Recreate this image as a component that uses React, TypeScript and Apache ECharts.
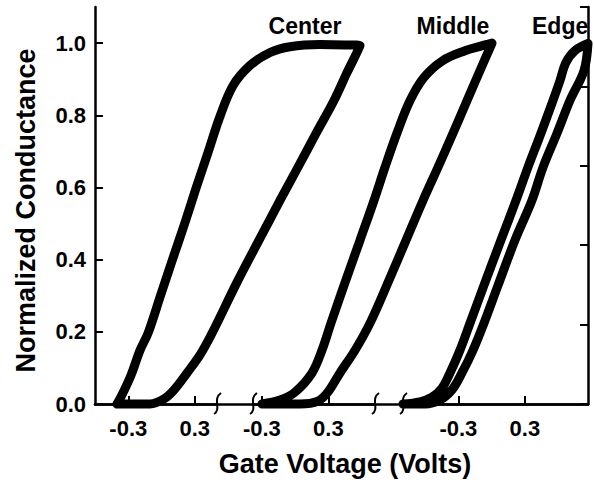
import React, { useEffect, useRef } from "react";
import * as echarts from "echarts";

// ---- data ----
const yTickValues = [0, 0.2, 0.4, 0.6, 0.8, 1.0];
const panelTicks = [-0.3, 0.3];
const panelMin = [-0.6, -0.38, -0.8];
const panelMax = [0.5, 0.72, 0.87];
const curveNames = ["Center", "Middle", "Edge"];

// Center loop (panel 1 voltage axis)
const centerV = [
  -0.402, -0.357, -0.275, -0.194, -0.122, -0.014, 0.094, 0.203, 0.311, 0.419, 0.527, 0.644, 0.798, 0.978, 1.158,
  1.429, 1.654, 1.79, 1.672, 1.555, 1.393, 1.23, 1.068, 0.879, 0.68, 0.455, 0.347, 0.23, 0.112, 0.022, -0.104,
  -0.402,
];
const centerG = [
  0, 0.025, 0.08, 0.149, 0.196, 0.296, 0.396, 0.495, 0.598, 0.697, 0.797, 0.882, 0.938, 0.974, 0.99, 0.996, 0.995,
  0.993, 0.918, 0.841, 0.75, 0.656, 0.564, 0.454, 0.337, 0.196, 0.136, 0.086, 0.039, 0.014, 0, 0,
];

// Middle loop (panel 2 voltage axis)
const middleV = [
  -0.299, -0.137, -0.001, 0.152, 0.242, 0.323, 0.441, 0.585, 0.711, 0.81, 0.927, 1.036, 1.162, 1.333, 1.532, 1.667,
  1.775, 1.667, 1.55, 1.423, 1.288, 1.153, 1.0, 0.846, 0.675, 0.54, 0.404, 0.296, 0.206, 0.044, -0.299,
];
const middleG = [
  0, 0.011, 0.033, 0.086, 0.149, 0.224, 0.329, 0.454, 0.564, 0.656, 0.758, 0.841, 0.905, 0.952, 0.979, 0.991, 1.0,
  0.924, 0.841, 0.75, 0.656, 0.564, 0.454, 0.343, 0.224, 0.149, 0.086, 0.033, 0.008, 0, 0,
];

// Edge loop (panel 3 voltage axis)
const edgeV = [
  -0.8, -0.647, -0.538, -0.448, -0.376, -0.286, -0.195, -0.069, 0.084, 0.22, 0.328, 0.445, 0.554, 0.617, 0.671,
  0.752, 0.87, 0.834, 0.707, 0.59, 0.464, 0.364, 0.211, 0.058, -0.069, -0.168, -0.268, -0.358, -0.466, -0.601, -0.8,
];
const edgeG = [
  0, 0.006, 0.019, 0.044, 0.086, 0.149, 0.224, 0.329, 0.454, 0.564, 0.656, 0.75, 0.841, 0.896, 0.946, 0.979, 0.999,
  0.924, 0.841, 0.75, 0.656, 0.564, 0.454, 0.329, 0.224, 0.149, 0.086, 0.039, 0.011, 0, 0,
];

const FONT = '"Liberation Sans", Arial, Helvetica, sans-serif';

export default function App() {
  const ref = useRef<HTMLDivElement>(null);

  useEffect(() => {
    if (!ref.current) return;
    const chart = echarts.init(ref.current, null, { renderer: "svg" });

    const TOP = 7;
    const HEIGHT = 397;
    const BOTTOM = TOP + HEIGHT;
    const PLOT_LEFT = 95;
    const PLOT_RIGHT = 588;
    const panelLeft = [95, 253, 403];
    const panelWidth = [122, 122, 185];

    const lineStyleAxis = { color: "#000", width: 2.5 };
    const labelStyle = { color: "#000", fontWeight: "bold" as const, fontFamily: FONT };

    // grid 0: frame; grids 1-3: short broken x axes; grids 4-6: curve areas reaching the right edge
    const grids: any[] = [{ left: PLOT_LEFT, top: TOP, width: PLOT_RIGHT - PLOT_LEFT, height: HEIGHT }];
    panelLeft.forEach((l, i) => grids.push({ left: l, top: TOP, width: panelWidth[i], height: HEIGHT }));
    panelLeft.forEach((l) => grids.push({ left: l, top: TOP, width: PLOT_RIGHT - l, height: HEIGHT }));

    const xAxes: any[] = [
      {
        type: "value",
        gridIndex: 0,
        position: "top",
        min: 0,
        max: 1,
        axisLine: { show: true, lineStyle: lineStyleAxis },
        axisTick: { show: false },
        axisLabel: { show: false },
        splitLine: { show: false },
      },
    ];
    panelMin.forEach((mn, i) => {
      xAxes.push({
        type: "value",
        gridIndex: i + 1,
        position: "bottom",
        min: mn,
        max: panelMax[i],
        axisLine: { show: true, onZero: false, lineStyle: lineStyleAxis },
        axisTick: {
          show: true,
          inside: true,
          length: 8,
          customValues: panelTicks,
          lineStyle: { color: "#000", width: 2 },
        },
        axisLabel: {
          ...labelStyle,
          fontSize: 22,
          margin: 13,
          customValues: panelTicks,
          formatter: (v: number) => v.toFixed(1),
        },
        splitLine: { show: false },
      });
    });
    panelMin.forEach((mn, i) => {
      const pxPerV = panelWidth[i] / (panelMax[i] - mn);
      xAxes.push({
        type: "value",
        gridIndex: i + 4,
        min: mn,
        max: mn + (PLOT_RIGHT - panelLeft[i]) / pxPerV,
        show: false,
        splitLine: { show: false },
      });
    });

    const yAxes: any[] = [
      {
        type: "value",
        gridIndex: 0,
        position: "left",
        min: 0,
        max: 1.1,
        interval: 0.2,
        name: "Normalized Conductance",
        nameLocation: "middle",
        nameGap: 56,
        nameTextStyle: { ...labelStyle, fontSize: 27, padding: [0, 10, 0, 0] },
        axisLine: { show: true, lineStyle: lineStyleAxis },
        axisTick: { show: true, inside: true, length: 8, lineStyle: { color: "#000", width: 2 } },
        axisLabel: {
          ...labelStyle,
          fontSize: 22,
          margin: 9,
          showMaxLabel: false,
          formatter: (v: number) => (yTickValues.some((t) => Math.abs(t - v) < 1e-6) ? v.toFixed(1) : ""),
        },
        splitLine: { show: false },
      },
      {
        type: "value",
        gridIndex: 0,
        position: "right",
        min: 0,
        max: 1,
        interval: 0.2,
        axisLine: { show: true, lineStyle: lineStyleAxis },
        axisTick: { show: true, inside: true, length: 8, lineStyle: { color: "#000", width: 2 } },
        axisLabel: { show: false },
        splitLine: { show: false },
      },
    ];
    for (let g = 1; g <= 6; g++) {
      yAxes.push({ type: "value", gridIndex: g, min: 0, max: 1.1, show: false, splitLine: { show: false } });
    }

    const curves = [
      [centerV, centerG],
      [middleV, middleG],
      [edgeV, edgeG],
    ];
    const series = curves.map(([vs, gs], i) => ({
      name: curveNames[i],
      type: "line",
      xAxisIndex: i + 4,
      yAxisIndex: i + 5,
      data: vs.map((v, k) => [v, gs[k]]),
      showSymbol: false,
      symbol: "none",
      smooth: 0.35,
      clip: false,
      lineStyle: { color: "#000", width: 9, cap: "round", join: "round" },
    }));

    const breakMark = (x: number) => ({
      type: "bezierCurve",
      shape: { x1: x + 4, y1: BOTTOM - 11, cpx1: x - 5, cpy1: BOTTOM - 5, cpx2: x + 5, cpy2: BOTTOM + 5, x2: x - 3, y2: BOTTOM + 10 },
      style: { stroke: "#000", lineWidth: 2, fill: "none" },
      z: 10,
    });
    const breaks = [panelLeft[0] + panelWidth[0], panelLeft[1], panelLeft[1] + panelWidth[1], panelLeft[2]];

    const labelX = [305, 453, 532];
    const labelAlign = ["center", "center", "left"];

    chart.setOption({
      animation: false,
      backgroundColor: "#fff",
      grid: grids,
      xAxis: xAxes,
      yAxis: yAxes,
      series,
      graphic: [
        ...breaks.map(breakMark),
        ...curveNames.map((n, i) => ({
          type: "text",
          x: labelX[i],
          y: 26,
          style: {
            text: n,
            fontSize: 23,
            fontWeight: "bold",
            fontFamily: FONT,
            fill: "#000",
            align: labelAlign[i],
            verticalAlign: "middle",
          },
          z: 10,
        })),
        {
          type: "text",
          x: 345,
          y: 464,
          style: {
            text: "Gate Voltage (Volts)",
            fontSize: 27,
            fontWeight: "bold",
            fontFamily: FONT,
            fill: "#000",
            align: "center",
            verticalAlign: "middle",
          },
        },
      ],
    });

    return () => chart.dispose();
  }, []);

  return (
    <div
      ref={ref}
      style={{ position: "fixed", left: 0, top: 0, width: 594, height: 480, background: "#fff" }}
    />
  );
}
